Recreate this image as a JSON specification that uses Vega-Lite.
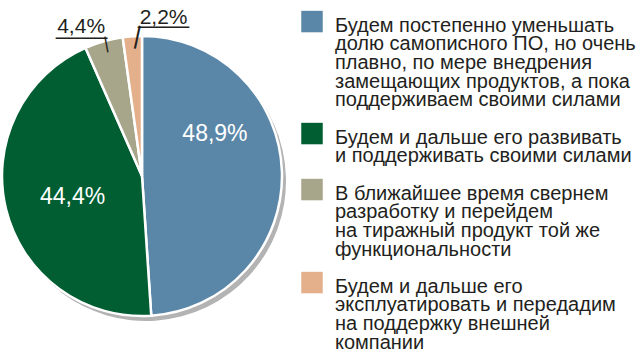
{
  "$schema": "https://vega.github.io/schema/vega-lite/v6.json",
  "width": 284,
  "height": 352,
  "padding": {"left": 0, "top": 0, "right": 356, "bottom": 2},
  "autosize": {"type": "none"},
  "background": "white",
  "config": {"view": {"stroke": null}, "font": "Liberation Sans"},
  "data": {
    "values": [
      {"k": 1, "cat": "Будем постепенно уменьшать|долю самописного ПО, но очень|плавно, по мере внедрения|замещающих продуктов, а пока|поддерживаем своими силами", "value": 48.9, "label": "48,9%"},
      {"k": 2, "cat": "Будем и дальше его развивать|и поддерживать своими силами", "value": 44.4, "label": "44,4%"},
      {"k": 3, "cat": "В ближайшее время свернем|разработку и перейдем|на тиражный продукт той же|функциональности", "value": 4.4, "label": "4,4%"},
      {"k": 4, "cat": "Будем и дальше его|эксплуатировать и передадим|на поддержку внешней|компании", "value": 2.2, "label": "2,2%"}
    ]
  },
  "encoding": {
    "theta": {"field": "value", "type": "quantitative", "stack": true},
    "order": {"field": "k", "type": "quantitative"},
    "detail": {"field": "cat", "type": "nominal"}
  },
  "layer": [
    {"mark": {"type": "arc", "radius": 140, "color": "#b3b3b3", "xOffset": 4, "yOffset": 5}},
    {
      "mark": {"type": "arc", "radius": 140, "stroke": "white", "strokeWidth": 2.5},
      "encoding": {
        "color": {
          "field": "cat", "type": "nominal",
          "scale": {
            "domain": [
              "Будем постепенно уменьшать|долю самописного ПО, но очень|плавно, по мере внедрения|замещающих продуктов, а пока|поддерживаем своими силами",
              "Будем и дальше его развивать|и поддерживать своими силами",
              "В ближайшее время свернем|разработку и перейдем|на тиражный продукт той же|функциональности",
              "Будем и дальше его|эксплуатировать и передадим|на поддержку внешней|компании"
            ],
            "range": ["#5a87a8", "#005e32", "#a8a68a", "#e4b08c"]
          },
          "legend": {
            "orient": "none", "legendX": 301, "legendY": 4.75, "title": null,
            "symbolType": "M-1,-0.46H1V1.54H-1Z", "symbolSize": 462, "symbolStrokeWidth": 0, "symbolOpacity": 1,
            "labelFontSize": 20, "labelFont": "Liberation Sans", "labelColor": "#231f20",
            "labelLimit": 0, "labelExpr": "split(datum.value, '|')", "labelBaseline": "top",
            "labelOffset": 12, "rowPadding": 6,
            "encoding": {"labels": {"lineHeight": {"value": 18.6}}}
          }
        }
      }
    },
    {
      "mark": {"type": "text", "radius": 75, "fontSize": 23, "color": "white", "dx": -2, "dy": -40},
      "encoding": {"text": {"condition": {"test": "datum.k == 1", "field": "label"}, "value": ""}}
    },
    {
      "mark": {"type": "text", "radius": 73, "fontSize": 23, "color": "white", "dx": 1.5, "dy": 3.5},
      "encoding": {"text": {"condition": {"test": "datum.k == 2", "field": "label"}, "value": ""}}
    },
    {
      "mark": {"type": "text", "radius": 158, "fontSize": 21, "color": "#231f20", "baseline": "alphabetic", "dx": -17.7, "dy": 9.2},
      "encoding": {"text": {"condition": {"test": "datum.k == 3", "field": "label"}, "value": ""}}
    },
    {
      "mark": {"type": "text", "radius": 158, "fontSize": 21, "color": "#231f20", "baseline": "alphabetic", "dx": 32.5, "dy": 5.9},
      "encoding": {"text": {"condition": {"test": "datum.k == 4", "field": "label"}, "value": ""}}
    },
    {
      "mark": {"type": "text", "radius": 158, "fontSize": 23, "color": "#231f20", "baseline": "alphabetic", "dx": -17.2, "dy": 9.6},
      "encoding": {"text": {"condition": {"test": "datum.k == 3", "value": "____"}, "value": ""}}
    },
    {
      "mark": {"type": "text", "radius": 158, "fontSize": 23, "color": "#231f20", "baseline": "alphabetic", "dx": 32.5, "dy": 4.3},
      "encoding": {"text": {"condition": {"test": "datum.k == 4", "value": "____"}, "value": ""}}
    },
    {
      "mark": {"type": "text", "radius": 136, "fontSize": 17, "color": "#231f20", "angle": 349.4, "dx": 1.7, "dy": -1},
      "encoding": {"text": {"condition": {"test": "datum.k == 3", "value": "|"}, "value": ""}}
    },
    {
      "mark": {"type": "text", "radius": 139.5, "fontSize": 25, "color": "#231f20", "angle": 12.3, "dx": 4.8, "dy": -2.4},
      "encoding": {"text": {"condition": {"test": "datum.k == 4", "value": "|"}, "value": ""}}
    }
  ]
}
